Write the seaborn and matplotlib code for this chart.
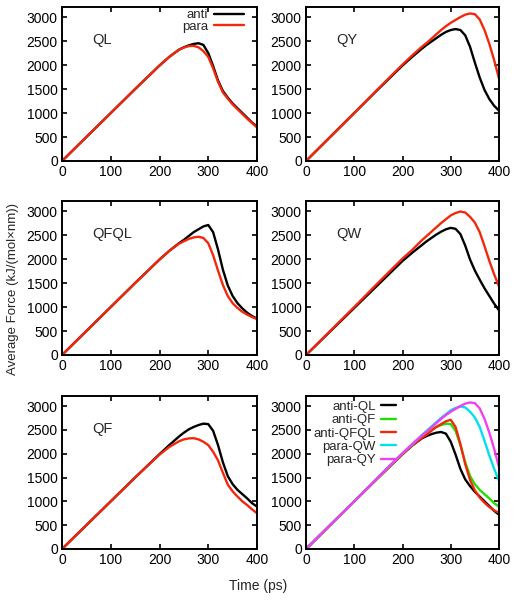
import numpy as np
import pandas as pd
import matplotlib
matplotlib.use("Agg")
import matplotlib.pyplot as plt
import seaborn as sns

# ---------------- data ----------------
time = [0, 20, 50, 100, 150, 200, 220, 240, 250, 260, 270, 280, 290, 300,
        310, 320, 330, 340, 350, 360, 370, 380, 390, 400]

ql_anti = [0, 200, 500, 1000, 1500, 1990, 2170, 2320, 2370, 2410, 2440, 2455, 2420, 2250,
           1980, 1680, 1460, 1320, 1200, 1100, 1000, 900, 800, 720]
ql_para = [0, 200, 500, 1000, 1500, 1990, 2170, 2320, 2365, 2395, 2400, 2370, 2290, 2170,
           1930, 1650, 1430, 1300, 1180, 1080, 980, 880, 790, 700]

qy_anti = [0, 200, 500, 1000, 1500, 1990, 2170, 2340, 2420, 2490, 2560, 2630, 2690, 2730,
           2750, 2730, 2620, 2380, 2050, 1740, 1480, 1290, 1150, 1050]
qy_para = [0, 200, 500, 1000, 1510, 2010, 2200, 2380, 2460, 2550, 2640, 2730, 2810, 2880,
           2940, 3000, 3050, 3075, 3060, 2950, 2730, 2440, 2100, 1720]

qfql_anti = [0, 200, 500, 1000, 1500, 1990, 2170, 2330, 2400, 2480, 2560, 2620, 2680, 2710,
             2560, 2200, 1780, 1450, 1230, 1080, 970, 880, 810, 760]
qfql_para = [0, 200, 500, 1000, 1500, 1990, 2170, 2320, 2370, 2420, 2450, 2465, 2440, 2330,
             2080, 1760, 1460, 1230, 1080, 980, 900, 840, 790, 750]

qw_anti = [0, 195, 490, 980, 1470, 1960, 2130, 2290, 2370, 2440, 2510, 2570, 2620, 2650,
           2630, 2520, 2280, 1990, 1760, 1570, 1390, 1230, 1070, 930]
qw_para = [0, 200, 500, 1000, 1510, 2010, 2190, 2390, 2480, 2570, 2660, 2750, 2830, 2910,
           2960, 2990, 2970, 2880, 2760, 2560, 2270, 1960, 1680, 1430]

qf_anti = [0, 200, 500, 1000, 1500, 1990, 2180, 2360, 2440, 2510, 2560, 2600, 2630, 2620,
           2480, 2180, 1820, 1530, 1360, 1240, 1150, 1060, 960, 890]
qf_para = [0, 200, 500, 1000, 1500, 1980, 2140, 2260, 2300, 2320, 2325, 2300, 2250, 2180,
           2040, 1860, 1600, 1350, 1210, 1100, 1000, 920, 830, 750]

panel_names = ["QL", "QY", "QFQL", "QW", "QF"]
panel_series = {
    "QL": (ql_anti, ql_para),
    "QY": (qy_anti, qy_para),
    "QFQL": (qfql_anti, qfql_para),
    "QW": (qw_anti, qw_para),
    "QF": (qf_anti, qf_para),
}
combo_labels = ["anti-QL", "anti-QF", "anti-QFQL", "para-QW", "para-QY"]
combo_series = [ql_anti, qf_anti, qfql_anti, qw_para, qy_para]

xticks = [0, 100, 200, 300, 400]
yticks = [0, 500, 1000, 1500, 2000, 2500, 3000]

# ---------------- style ----------------
sns.set_theme(style="ticks")
plt.rcParams["font.family"] = ["Liberation Sans", "DejaVu Sans"]
plt.rcParams["axes.linewidth"] = 1.4
plt.rcParams["xtick.direction"] = "in"
plt.rcParams["ytick.direction"] = "in"
plt.rcParams["xtick.top"] = True
plt.rcParams["ytick.right"] = True
plt.rcParams["xtick.major.size"] = 3.5
plt.rcParams["ytick.major.size"] = 3.5
plt.rcParams["xtick.major.width"] = 1.2
plt.rcParams["ytick.major.width"] = 1.2
plt.rcParams["xtick.labelsize"] = 10
plt.rcParams["ytick.labelsize"] = 10
plt.rcParams["xtick.color"] = "black"
plt.rcParams["ytick.color"] = "black"
plt.rcParams["axes.edgecolor"] = "black"

RED = "#f2280c"
colors_combo = ["black", "#22dd00", RED, "#00e0f0", "#f040f0"]

W, H = 518, 601
fig = plt.figure(figsize=(W / 100, H / 100), dpi=100)

col_left = [62 / W, 306 / W]
col_width = [(257 - 62) / W, (499 - 306) / W]
rows = [(7, 161), (201, 355), (396, 549)]


def make_ax(r, c):
    top, bot = rows[r]
    return fig.add_axes([col_left[c], 1 - bot / H, col_width[c], (bot - top) / H])


def style_ax(ax):
    ax.set_xlim(0, 400)
    ax.set_ylim(0, 3210)
    ax.set_xticks(xticks)
    ax.set_yticks(yticks)
    ax.set_xlabel("")
    ax.set_ylabel("")
    ax.tick_params(axis="both", pad=3)


positions = [(0, 0), (0, 1), (1, 0), (1, 1), (2, 0)]
for name, (r, c) in zip(panel_names, positions):
    ax = make_ax(r, c)
    anti, para = panel_series[name]
    df = pd.DataFrame({"time": time * 2, "force": anti + para,
                       "kind": ["anti"] * len(time) + ["para"] * len(time)})
    sns.lineplot(data=df, x="time", y="force", hue="kind",
                 palette={"anti": "black", "para": RED}, linewidth=1.7,
                 ax=ax, legend=(name == "QL"), estimator=None, sort=False)
    style_ax(ax)
    ax.text(62, 2520, name, fontsize=10.5, va="center", ha="left")
    if name == "QL":
        leg = ax.legend(loc="upper right", frameon=False, markerfirst=False,
                        fontsize=9.5, handlelength=2.3, handletextpad=0.4,
                        borderaxespad=0.0, labelspacing=-0.05,
                        bbox_to_anchor=(0.96, 1.02))
        for line in leg.get_lines():
            line.set_linewidth(1.7)

# combined panel
ax = make_ax(2, 1)
df_all = pd.DataFrame({
    "time": time * len(combo_labels),
    "force": sum(combo_series, []),
    "series": sum([[lab] * len(time) for lab in combo_labels], []),
})
sns.lineplot(data=df_all, x="time", y="force", hue="series",
             hue_order=combo_labels, palette=colors_combo, linewidth=1.7,
             ax=ax, estimator=None, sort=False)
style_ax(ax)
leg = ax.legend(loc="upper left", frameon=False, markerfirst=False,
                fontsize=9.5, handlelength=1.1, handletextpad=0.4,
                labelspacing=0.08, bbox_to_anchor=(0.0, 1.02), borderaxespad=0.2)
for line in leg.get_lines():
    line.set_linewidth(1.7)

fig.text(13 / W, 1 - 289 / H, "Average Force (kJ/(mol\u00d7nm))", rotation=90,
         va="center", ha="center", fontsize=9.5)
fig.text(258 / W, 1 - 586 / H, "Time (ps)", va="center", ha="center", fontsize=10)

fig.savefig("out.png", dpi=100)
